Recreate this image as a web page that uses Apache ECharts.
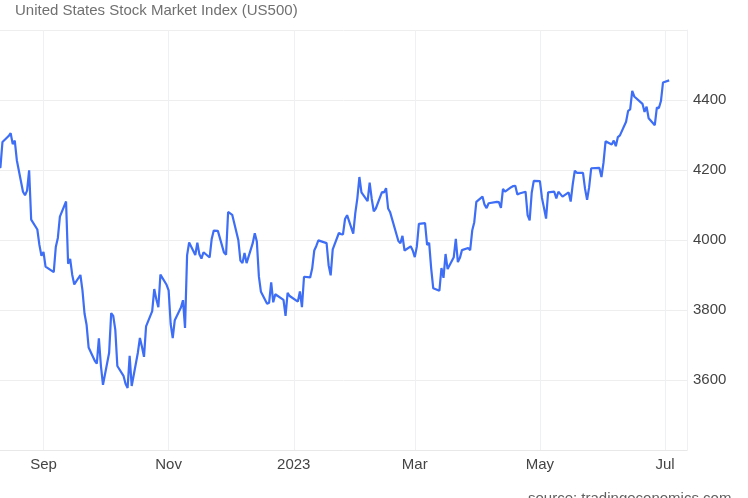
<!DOCTYPE html>
<html><head><meta charset="utf-8">
<script src="https://cdn.jsdelivr.net/npm/echarts@6/dist/echarts.min.js"></script>
<style>html,body{margin:0;padding:0;background:#fff}#c{width:748px;height:498px}</style>
</head><body><div id="c"></div>
<script>
const dates = [
'2022-08-10','2022-08-11','2022-08-12','2022-08-15','2022-08-16','2022-08-17','2022-08-18','2022-08-19','2022-08-22','2022-08-23','2022-08-24','2022-08-25','2022-08-26','2022-08-29','2022-08-30','2022-08-31',
'2022-09-01','2022-09-02','2022-09-06','2022-09-07','2022-09-08','2022-09-09','2022-09-12','2022-09-13','2022-09-14','2022-09-15','2022-09-16','2022-09-19','2022-09-20','2022-09-21','2022-09-22','2022-09-23','2022-09-26','2022-09-27','2022-09-28','2022-09-29','2022-09-30',
'2022-10-03','2022-10-04','2022-10-05','2022-10-06','2022-10-07','2022-10-10','2022-10-11','2022-10-12','2022-10-13','2022-10-14','2022-10-17','2022-10-18','2022-10-19','2022-10-20','2022-10-21','2022-10-24','2022-10-25','2022-10-26','2022-10-27','2022-10-28','2022-10-31',
'2022-11-01','2022-11-02','2022-11-03','2022-11-04','2022-11-07','2022-11-08','2022-11-09','2022-11-10','2022-11-11','2022-11-14','2022-11-15','2022-11-16','2022-11-17','2022-11-18','2022-11-21','2022-11-22','2022-11-23','2022-11-25','2022-11-28','2022-11-29','2022-11-30',
'2022-12-01','2022-12-02','2022-12-05','2022-12-06','2022-12-07','2022-12-08','2022-12-09','2022-12-12','2022-12-13','2022-12-14','2022-12-15','2022-12-16','2022-12-19','2022-12-20','2022-12-21','2022-12-22','2022-12-23','2022-12-27','2022-12-28','2022-12-29','2022-12-30',
'2023-01-03','2023-01-04','2023-01-05','2023-01-06','2023-01-09','2023-01-10','2023-01-11','2023-01-12','2023-01-13','2023-01-17','2023-01-18','2023-01-19','2023-01-20','2023-01-23','2023-01-24','2023-01-25','2023-01-26','2023-01-27','2023-01-30','2023-01-31',
'2023-02-01','2023-02-02','2023-02-03','2023-02-06','2023-02-07','2023-02-08','2023-02-09','2023-02-10','2023-02-13','2023-02-14','2023-02-15','2023-02-16','2023-02-17','2023-02-21','2023-02-22','2023-02-23','2023-02-24','2023-02-27','2023-02-28',
'2023-03-01','2023-03-02','2023-03-03','2023-03-06','2023-03-07','2023-03-08','2023-03-09','2023-03-10','2023-03-13','2023-03-14','2023-03-15','2023-03-16','2023-03-17','2023-03-20','2023-03-21','2023-03-22','2023-03-23','2023-03-24','2023-03-27','2023-03-28','2023-03-29','2023-03-30','2023-03-31',
'2023-04-03','2023-04-04','2023-04-05','2023-04-06','2023-04-10','2023-04-11','2023-04-12','2023-04-13','2023-04-14','2023-04-17','2023-04-18','2023-04-19','2023-04-20','2023-04-21','2023-04-24','2023-04-25','2023-04-26','2023-04-27','2023-04-28',
'2023-05-01','2023-05-02','2023-05-03','2023-05-04','2023-05-05','2023-05-08','2023-05-09','2023-05-10','2023-05-11','2023-05-12','2023-05-15','2023-05-16','2023-05-17','2023-05-18','2023-05-19','2023-05-22','2023-05-23','2023-05-24','2023-05-25','2023-05-26','2023-05-30','2023-05-31',
'2023-06-01','2023-06-02','2023-06-05','2023-06-06','2023-06-07','2023-06-08','2023-06-09','2023-06-12','2023-06-13','2023-06-14','2023-06-15','2023-06-16','2023-06-20','2023-06-21','2023-06-22','2023-06-23','2023-06-26','2023-06-27','2023-06-28','2023-06-29','2023-06-30',
'2023-07-03'
];
const closes = [
4210,4207,4280,4297,4305,4274,4284,4228,4138,4128,4141,4199,4058,4030,3986,3955,
3966,3924,3908,3980,4006,4067,4110,3932,3946,3901,3873,3900,3856,3790,3758,3693,3655,3647,3719,3640,3586,
3678,3791,3783,3744,3640,3612,3589,3577,3669,3583,3678,3720,3695,3666,3753,3797,3860,3831,3808,3901,3872,
3856,3760,3720,3771,3807,3828,3749,3956,3993,3957,3992,3959,3947,3965,3950,4003,4027,4026,3964,3958,4080,
4076,4072,3999,3941,3934,3963,3934,3991,4019,3996,3896,3852,3818,3821,3879,3822,3845,3829,3783,3849,3840,
3824,3853,3808,3895,3893,3919,3970,3983,3999,3991,3928,3899,3973,4020,4017,4016,4060,4071,4018,4077,
4119,4180,4136,4111,4164,4118,4082,4090,4137,4136,4148,4090,4079,3997,3991,4012,3970,3982,3970,
3951,3981,4046,4048,3986,3992,3918,3862,3855,3920,3892,3960,3917,3951,4003,3937,3949,3971,3977,3971,4027,4051,4109,
4124,4101,4091,4105,4109,4108,4092,4146,4138,4151,4154,4155,4130,4133,4138,4071,4056,4135,4169,
4168,4120,4091,4061,4136,4138,4119,4138,4131,4124,4136,4110,4159,4198,4192,4192,4146,4115,4151,4205,4206,4180,
4221,4282,4273,4284,4268,4294,4299,4338,4369,4373,4426,4410,4389,4366,4381,4348,4328,4378,4377,4397,4450,
4456
];
const xTickDates = ['2022-09-01','2022-11-01','2023-01-01','2023-03-01','2023-05-01','2023-07-01'];
const xTickLabels = ['Sep','Nov','2023','Mar','May','Jul'];
const yTickValues = [3600,3800,4000,4200,4400];
const titleText = 'United States Stock Market Index (US500)';
const sourceText = 'source: tradingeconomics.com';

function ts(s){ const p = s.split('-').map(Number); return Date.UTC(p[0], p[1]-1, p[2]); }
const xTickVals = xTickDates.map(ts);
const DAY = 86400000;
const xMin = ts('2022-08-10') + 0.8*DAY;
const xMax = ts('2023-07-11') + 0.7*DAY;

const chart = echarts.init(document.getElementById('c'), null, {renderer:'canvas'});
chart.setOption({
  animation: false,
  backgroundColor: '#ffffff',
  textStyle: { fontFamily: '"Liberation Sans", Arial, sans-serif' },
  title: {
    text: titleText, left: 15, top: 3, padding: 0,
    textStyle: { fontSize: 15, fontWeight: 'normal', color: '#707070', fontFamily: '"Liberation Sans", Arial, sans-serif' }
  },
  graphic: [{
    type: 'text', left: 528, top: 491,
    style: { text: sourceText, fill: '#606060', font: '15px "Liberation Sans", Arial, sans-serif' }
  }],
  grid: { left: 0, right: 61, top: 30, bottom: 48, containLabel: false },
  xAxis: {
    type: 'value', min: xMin, max: xMax,
    axisLine: { show: true, lineStyle: { color: '#e8e8e8', width: 1 } },
    axisTick: { show: false, customValues: xTickVals },
    axisLabel: {
      customValues: xTickVals, color: '#444444', fontSize: 15, margin: 7,
      formatter: function(v){ const i = xTickVals.indexOf(v); return i >= 0 ? xTickLabels[i] : ''; }
    },
    splitLine: { show: true, lineStyle: { color: '#eef0f3', width: 1 } }
  },
  yAxis: {
    type: 'value', position: 'right', min: 3400, max: 4600, interval: 200,
    axisLine: { show: true, lineStyle: { color: '#eef0f3' } },
    axisTick: { show: false },
    axisLabel: {
      color: '#444444', fontSize: 15, margin: 6,
      formatter: function(v){ return yTickValues.indexOf(v) >= 0 ? String(v) : ''; }
    },
    splitLine: { show: true, lineStyle: { color: '#eeeeee', width: 1 } }
  },
  series: [{
    type: 'line',
    data: dates.map(function(d, i){ return [ts(d), closes[i]]; }),
    showSymbol: false,
    lineStyle: { color: '#3d6ef5', width: 2.2 },
    itemStyle: { color: '#3d6ef5' }
  }]
});
</script>
</body></html>
